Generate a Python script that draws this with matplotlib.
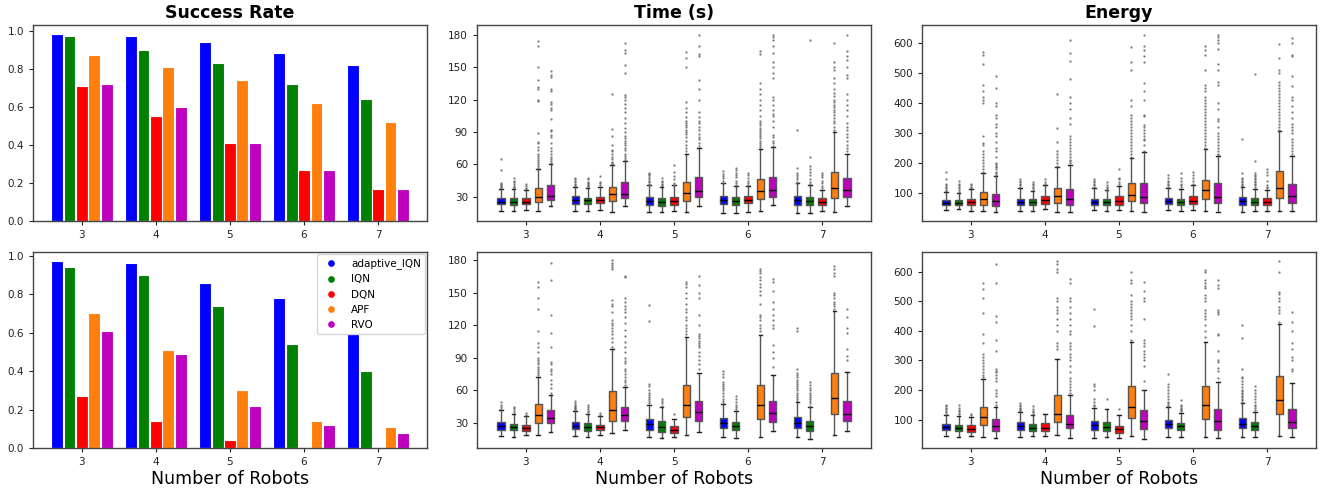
import matplotlib
matplotlib.use("Agg")
import matplotlib.pyplot as plt
from matplotlib.lines import Line2D

# ---------------------------------------------------------------- data
robots = [3, 4, 5, 6, 7]
methods = ["adaptive_IQN", "IQN", "DQN", "APF", "RVO"]
colors = ["#0000ff", "#008000", "#ff0000", "#ff7f0e", "#bf00bf"]

# success rate per method, one value per robot count
success_top = {
    "adaptive_IQN": [0.98, 0.97, 0.94, 0.88, 0.82],
    "IQN":          [0.97, 0.90, 0.83, 0.72, 0.64],
    "DQN":          [0.71, 0.55, 0.41, 0.27, 0.17],
    "APF":          [0.87, 0.81, 0.74, 0.62, 0.52],
    "RVO":          [0.72, 0.60, 0.41, 0.27, 0.17],
}
success_bottom = {
    "adaptive_IQN": [0.97, 0.96, 0.86, 0.78, 0.59],
    "IQN":          [0.94, 0.90, 0.74, 0.54, 0.40],
    "DQN":          [0.27, 0.14, 0.04, 0.00, 0.00],
    "APF":          [0.70, 0.51, 0.30, 0.14, 0.11],
    "RVO":          [0.61, 0.49, 0.22, 0.12, 0.08],
}

# box statistics: (whisker low, Q1, median, Q3, whisker high) per robot count
time_top = {
    "adaptive_IQN": [(17, 23, 25.5, 28.5, 37), (17, 23.2, 27, 30.6, 38.6), (16, 22.3, 26, 29.4, 40.8),
                     (15.2, 23.5, 27.2, 31, 42.3), (15.2, 22.3, 26.6, 30.6, 42.3)],
    "IQN":          [(17, 22.5, 25.5, 28.5, 37.5), (17, 23.2, 26.5, 29, 38), (16, 21.7, 25.4, 29, 39),
                     (15.2, 22.3, 26, 30, 39.9), (15.2, 22.3, 26, 30, 40.8)],
    "DQN":          [(18, 23, 25.5, 29, 36), (18, 24, 27, 30, 39), (17, 22.3, 26, 30, 40.8),
                     (16, 23.8, 26.6, 30.6, 40), (16.8, 22.3, 25.4, 28.5, 36)],
    "APF":          [(17, 25.5, 29.7, 37.7, 56), (16, 26, 32.5, 39.2, 59), (16, 26, 33.4, 43.9, 70),
                     (17, 27.8, 35.2, 46.3, 74.6), (15.5, 29, 38.3, 53, 90)],
    "RVO":          [(21.4, 27.2, 31, 40.8, 60), (21.7, 28.5, 32.8, 43.2, 63), (21.7, 30, 35, 48.5, 75),
                     (22, 30, 35.9, 48.5, 76), (21.7, 30, 36.2, 47.6, 70)],
}
time_top_fliers = {
    "adaptive_IQN": [[38, 39, 40, 41, 42, 43, 55, 65], [40, 41, 42, 44, 45, 46, 47],
                     [41, 42, 44, 45, 46, 48, 50, 51, 52], [43, 45, 47, 49, 51, 54],
                     [43, 44, 46, 48, 50, 52, 57, 92]],
    "IQN":          [[38, 39, 40, 42, 44, 45, 47], [39, 40, 41, 42, 43, 44, 46, 47],
                     [40, 41, 42, 44, 45, 47], [41, 43, 45, 48, 50, 52, 55, 57],
                     [42, 44, 46, 50, 53, 56, 58, 67, 175]],
    "DQN":          [[37, 38, 40, 42], [41, 43, 44, 49], [41, 43, 46, 49, 53, 59],
                     [41, 43, 45, 47, 50, 52], [38, 40, 43, 45, 48, 50, 52]],
    "APF":          [[57, 58, 60, 62, 64, 66, 68, 70, 73, 76, 80, 81, 89, 119, 120, 130, 132, 138, 150, 170, 174],
                     [60, 61, 62, 65, 67, 70, 72, 73, 78, 86, 93, 125],
                     [72, 75, 78, 82, 85, 88, 90, 92, 95, 96, 98, 100, 104, 108, 112, 118, 150, 158, 164],
                     [76, 78, 80, 82, 84, 86, 88, 90, 92, 94, 96, 98, 100, 105, 110, 115, 120, 125,
                      130, 135, 162, 165],
                     [92, 95, 98, 100, 103, 106, 108, 110, 113, 115, 118, 120, 123, 126, 130, 135, 140,
                      147, 150, 155, 172]],
    "RVO":          [[61, 63, 65, 67, 70, 72, 75, 80, 85, 87, 91, 92, 102, 110, 112, 116, 118, 128, 130,
                      141, 143, 146],
                     [64, 66, 68, 70, 73, 75, 78, 80, 82, 84, 86, 90, 94, 98, 103, 108, 112, 116, 120,
                      122, 124, 145, 152, 163, 166, 172],
                     [77, 80, 83, 85, 88, 92, 95, 98, 100, 104, 108, 120, 130, 138, 160, 162, 170, 180],
                     [77, 80, 82, 85, 87, 95, 100, 105, 107, 110, 115, 120, 122, 140, 145, 150, 155,
                      163, 170, 175, 178, 180],
                     [72, 75, 78, 82, 85, 88, 92, 95, 98, 105, 110, 115, 120, 125, 140, 143, 150, 157,
                      160, 165, 180]],
}

time_bottom = {
    "adaptive_IQN": [(17.7, 23.2, 27.2, 30.9, 42.3), (17.7, 24.5, 27.5, 31.2, 41.4), (16.8, 23.9, 29, 33.7, 46.6),
                     (17.1, 25.4, 30, 34.6, 47.8), (17.4, 25.4, 29.7, 35.5, 49.7)],
    "IQN":          [(17.4, 23.2, 26.3, 29.4, 38.3), (17.4, 23, 26.6, 30, 38.6), (16.2, 22, 26, 31.8, 44.8),
                     (16.2, 23.2, 27.2, 30.9, 41.4), (15.6, 23, 27, 32.2, 44.8)],
    "DQN":          [(18.6, 23, 25.4, 27.8, 36), (18.6, 23.2, 26, 28.5, 36), (16.8, 20.8, 23.9, 27.5, 33.7),
                     None, None],
    "APF":          [(19, 30, 37, 47.5, 72.4), (20.8, 32.2, 41.7, 59.5, 98.5), (18.6, 35.2, 46.3, 65, 109),
                     (17, 34, 46.6, 65, 111.5), (18.6, 38.3, 52.7, 75.8, 133)],
    "RVO":          [(21.7, 29.7, 34.3, 42, 56), (23.5, 32.2, 37, 45, 63), (21.7, 31.5, 40, 50, 76),
                     (22.6, 30.6, 39.2, 50.6, 74.3), (23, 32.2, 38.6, 50.6, 77)],
}
time_bottom_fliers = {
    "adaptive_IQN": [[43, 45, 47, 49], [42, 43, 44, 45, 46, 47, 48, 50],
                     [48, 50, 52, 54, 56, 58, 60, 64, 66, 124, 139],
                     [48, 50, 52, 55, 58, 60, 62, 64, 66, 68, 72, 75, 78],
                     [50, 52, 54, 56, 58, 60, 62, 64, 66, 68, 70, 72, 74, 76, 80, 115, 118]],
    "IQN":          [[40, 42, 44, 45], [40, 41, 43, 45, 47], [46, 48, 50, 52],
                     [43, 45, 47, 49, 52, 55], [46, 48, 50, 52, 54, 56, 58, 60, 62, 65, 68]],
    "DQN":          [[37, 39], [37, 39], [38], [], []],
    "APF":          [[74, 76, 78, 80, 82, 84, 86, 88, 90, 95, 100, 104, 115, 135, 145, 155, 160],
                     [100, 105, 108, 112, 115, 118, 120, 122, 125, 132, 138, 140, 143, 172, 174, 176, 178, 180],
                     [112, 115, 118, 120, 125, 128, 132, 135, 140, 145, 150, 155, 158, 160],
                     [115, 118, 120, 125, 128, 130, 140, 148, 152, 155, 158, 162, 165, 168, 170, 172],
                     [135, 138, 140, 142, 145, 148, 150, 166, 168, 172, 175]],
    "RVO":          [[58, 62, 66, 70, 75, 78, 80, 84, 86, 100, 113, 130, 162, 178],
                     [65, 68, 70, 72, 75, 78, 80, 85, 87, 90, 95, 100, 105, 110, 116, 122, 128, 132, 135,
                      138, 142, 145, 165, 166],
                     [80, 84, 88, 92, 95, 100, 102, 104, 106, 108, 110, 112, 120, 130, 145, 150, 157, 166],
                     [82, 90, 95, 102, 118, 120, 125, 130, 135, 142, 152, 160, 163],
                     [88, 92, 98, 113, 118, 128, 135]],
}

energy_top = {
    "adaptive_IQN": [(41, 58, 66.7, 76.7, 101), (39, 58, 69, 80, 115.5), (41, 58, 70, 80, 115.5),
                     (41, 62, 72, 83, 115.5), (35.7, 58, 71, 84.5, 119)],
    "IQN":          [(43.5, 58, 66.7, 76.7, 99), (39, 60, 70, 79, 106.7), (40, 58, 69, 79, 107.8),
                     (40, 60, 70, 80, 113), (38, 58, 70, 83, 113)],
    "DQN":          [(39, 58, 68, 79, 113), (44.5, 61, 74.5, 88, 124), (42, 60, 73.4, 88, 122),
                     (41, 62, 73.4, 89, 124), (39, 59, 70, 82, 108)],
    "APF":          [(39, 60, 78, 103, 165), (35.7, 66.7, 88, 115.5, 184), (39, 71, 93, 133, 215),
                     (40, 78, 107.8, 143, 244), (38, 83, 114, 173, 304)],
    "RVO":          [(33.5, 55.6, 71, 96.7, 154), (33.5, 60, 78, 113, 191), (33.5, 63.4, 84.5, 132, 235),
                     (35.7, 66.7, 84.5, 132, 221), (38, 65.6, 90, 129, 222)],
}
energy_top_fliers = {
    "adaptive_IQN": [[105, 110, 115, 120, 125, 130, 145, 170], [120, 125, 130, 135, 140, 145],
                     [120, 125, 130, 135, 140, 145], [120, 125, 130, 135, 140, 150, 157],
                     [122, 126, 130, 135, 140, 145, 150, 165, 280]],
    "IQN":          [[102, 108, 115, 120, 125, 130, 138], [110, 115, 120, 125, 130, 135],
                     [110, 115, 120, 125, 135], [118, 125, 130, 140, 150, 165],
                     [118, 125, 130, 135, 140, 145, 150, 155, 160, 165, 205, 495]],
    "DQN":          [[115, 120, 125, 130], [128, 135, 145], [128, 135, 145, 150, 180],
                     [130, 140, 150, 160, 170], [115, 120, 125, 140, 160, 170, 180]],
    "APF":          [[170, 180, 190, 200, 210, 220, 230, 240, 260, 265, 290, 400, 410, 420, 440, 460,
                      530, 560, 570],
                     [190, 200, 210, 220, 230, 240, 270, 315, 430],
                     [220, 230, 240, 250, 260, 270, 280, 290, 300, 310, 320, 330, 340, 350, 360, 390,
                      410, 510, 535, 585],
                     [250, 260, 270, 280, 290, 300, 310, 320, 330, 340, 350, 360, 370, 380, 390, 400,
                      410, 420, 440, 450, 460, 510, 560, 575, 590],
                     [310, 320, 330, 340, 350, 360, 370, 380, 390, 400, 410, 420, 430, 440, 450, 460,
                      470, 500, 510, 550, 595]],
    "RVO":          [[160, 165, 170, 180, 185, 190, 195, 200, 220, 240, 250, 270, 290, 300, 320, 330,
                      350, 360, 390, 400, 450, 490],
                     [200, 205, 210, 220, 230, 240, 250, 260, 270, 280, 290, 330, 350, 380, 400, 420,
                      480, 540, 565, 610],
                     [240, 260, 275, 280, 290, 300, 310, 320, 325, 355, 360, 410, 440, 465, 535, 555,
                      575, 590, 625],
                     [225, 230, 240, 250, 260, 270, 280, 290, 300, 320, 340, 345, 380, 400, 460, 470,
                      510, 530, 580, 600, 610, 620, 625],
                     [230, 240, 250, 260, 270, 280, 300, 310, 320, 330, 350, 370, 390, 410, 420, 455,
                      490, 555, 560, 600, 615]],
}

energy_bottom = {
    "adaptive_IQN": [(45, 64, 75, 86.5, 117), (42.6, 64, 77.5, 91, 125), (38, 66, 83, 96.6, 139),
                     (41.4, 72, 86.5, 100, 143), (41.4, 72, 85.4, 104.5, 156)],
    "IQN":          [(42.6, 60.6, 73, 83, 113.5), (45, 61.7, 73, 85.4, 115.8), (41.4, 61.7, 76.4, 92, 136),
                     (41.4, 65, 77.5, 88.7, 122.5), (42.6, 65, 78.6, 92, 126)],
    "DQN":          [(45, 58, 68.5, 81, 109), (46, 60.6, 72, 88.7, 120), (38, 55, 67, 78.6, 114.6),
                     None, None],
    "APF":          [(42.6, 82, 109, 144, 238.5), (49, 92, 120, 184.5, 306), (45, 105.6, 142.8, 212.6, 362),
                     (42.6, 102, 148, 215, 362), (46, 119, 166, 246, 423)],
    "RVO":          [(38, 61.7, 78.6, 101, 143), (38, 70.7, 85.4, 117, 184.5), (34.7, 68.5, 96.6, 132.7, 201),
                     (38, 66, 96.6, 136, 227), (42.6, 70.7, 91, 136, 224)],
}
energy_bottom_fliers = {
    "adaptive_IQN": [[120, 125, 130, 135, 140, 145, 150], [128, 132, 136, 140, 145, 150, 155],
                     [145, 150, 160, 170, 200, 215, 220, 415, 475],
                     [145, 150, 155, 160, 170, 180, 190, 200, 210, 220, 255],
                     [160, 165, 170, 175, 180, 185, 190, 195, 200, 210, 220, 230, 240, 245, 270, 375, 420]],
    "IQN":          [[118, 122, 128, 132, 140, 150], [120, 125, 130, 135, 145], [170],
                     [128, 132, 136, 140, 145, 150, 165],
                     [132, 140, 145, 150, 160, 170, 180, 190, 200, 215]],
    "DQN":          [[115, 120], [], [135], [], []],
    "APF":          [[245, 250, 260, 270, 280, 290, 300, 310, 320, 360, 390, 460, 510, 540, 560],
                     [340, 350, 360, 400, 420, 440, 460, 470, 480, 500, 510, 600, 610, 625, 635],
                     [370, 400, 420, 440, 450, 460, 470, 480, 490, 500, 520, 560, 570, 600],
                     [380, 400, 420, 440, 450, 460, 470, 500, 510, 520, 545, 550, 560, 570, 600, 605],
                     [430, 460, 470, 480, 500, 510, 525, 530, 600, 635]],
    "RVO":          [[150, 160, 180, 190, 200, 230, 240, 250, 260, 265, 270, 330, 370, 430, 450, 560, 625],
                     [190, 200, 210, 220, 230, 240, 260, 280, 300, 310, 320, 340, 350, 360, 390, 400,
                      420, 440, 460, 480, 500, 510, 560, 575],
                     [230, 280, 300, 310, 320, 330, 350, 360, 370, 440, 500, 510, 535, 565],
                     [240, 265, 275, 295, 300, 330, 385, 390, 455, 465, 470, 545, 555, 570],
                     [265, 270, 300, 310, 340, 360, 400, 430, 465]],
}

# ---------------------------------------------------------------- style
FS_TICK = 7.5
FS_TITLE = 12.5
FS_LABEL = 12.5
SPINE = "#444444"
OFFSET = 0.167
XLIM = (2.34, 7.66)

fig = plt.figure(figsize=(13.3, 4.93), dpi=100)
col_x = [33 / 1330, 477 / 1330, 922 / 1330]
ax_w = 394 / 1330
ax_h = 196 / 493
row_y = [1 - 221 / 493, 1 - 448 / 493]
axes = [[fig.add_axes([x, y, ax_w, ax_h]) for x in col_x] for y in row_y]


def style_axis(ax):
    for s in ax.spines.values():
        s.set_color(SPINE)
        s.set_linewidth(1.0)
    ax.tick_params(labelsize=FS_TICK, colors="#222222", length=3, width=0.8)
    ax.set_xticks(robots)
    ax.set_xlim(*XLIM)


def draw_bars(ax, data):
    for i, m in enumerate(methods):
        xs = [r + (i - 2) * OFFSET for r in robots]
        ax.bar(xs, data[m], width=0.16, color=colors[i], edgecolor="white", linewidth=0.8, label=m)
    style_axis(ax)
    ax.set_yticks([0.0, 0.2, 0.4, 0.6, 0.8, 1.0])


def draw_boxes(ax, stats, fliers, ylim, yticks):
    for i, m in enumerate(methods):
        recs, pos = [], []
        for j, r in enumerate(robots):
            s = stats[m][j]
            if s is None:
                continue
            lo, q1, med, q3, hi = s
            recs.append(dict(whislo=lo, q1=q1, med=med, q3=q3, whishi=hi, fliers=fliers[m][j]))
            pos.append(r + (i - 2) * OFFSET)
        ax.bxp(recs, positions=pos, widths=0.1, patch_artist=True, manage_ticks=False,
               boxprops=dict(facecolor=colors[i], edgecolor="#555555", linewidth=1.0),
               medianprops=dict(color="black", linewidth=1.0),
               whiskerprops=dict(color="#555555", linewidth=1.0),
               capprops=dict(color="#222222", linewidth=1.0),
               flierprops=dict(marker=".", markersize=1.5, markerfacecolor="#666666",
                               markeredgecolor="#666666", alpha=0.7))
    style_axis(ax)
    ax.set_ylim(*ylim)
    ax.set_yticks(yticks)


draw_bars(axes[0][0], success_top)
draw_bars(axes[1][0], success_bottom)

time_ticks = [30, 60, 90, 120, 150, 180]
energy_ticks = [100, 200, 300, 400, 500, 600]
draw_boxes(axes[0][1], time_top, time_top_fliers, (7.5, 189), time_ticks)
draw_boxes(axes[1][1], time_bottom, time_bottom_fliers, (6.9, 187.7), time_ticks)
draw_boxes(axes[0][2], energy_top, energy_top_fliers, (5, 659), energy_ticks)
draw_boxes(axes[1][2], energy_bottom, energy_bottom_fliers, (4, 666), energy_ticks)

for ax, title in zip(axes[0], ["Success Rate", "Time (s)", "Energy"]):
    ax.set_title(title, fontsize=FS_TITLE, fontweight="bold", pad=5)
for ax in axes[1]:
    ax.set_xlabel("Number of Robots", fontsize=FS_LABEL, labelpad=2)

handles = [Line2D([], [], marker="o", linestyle="none", markersize=3.8, color=c) for c in colors]
axes[1][0].legend(handles, methods, loc="upper right", fontsize=7.5,
                  borderaxespad=0.2, handletextpad=0.9, labelspacing=0.5)

fig.savefig("out.png", dpi=100)
